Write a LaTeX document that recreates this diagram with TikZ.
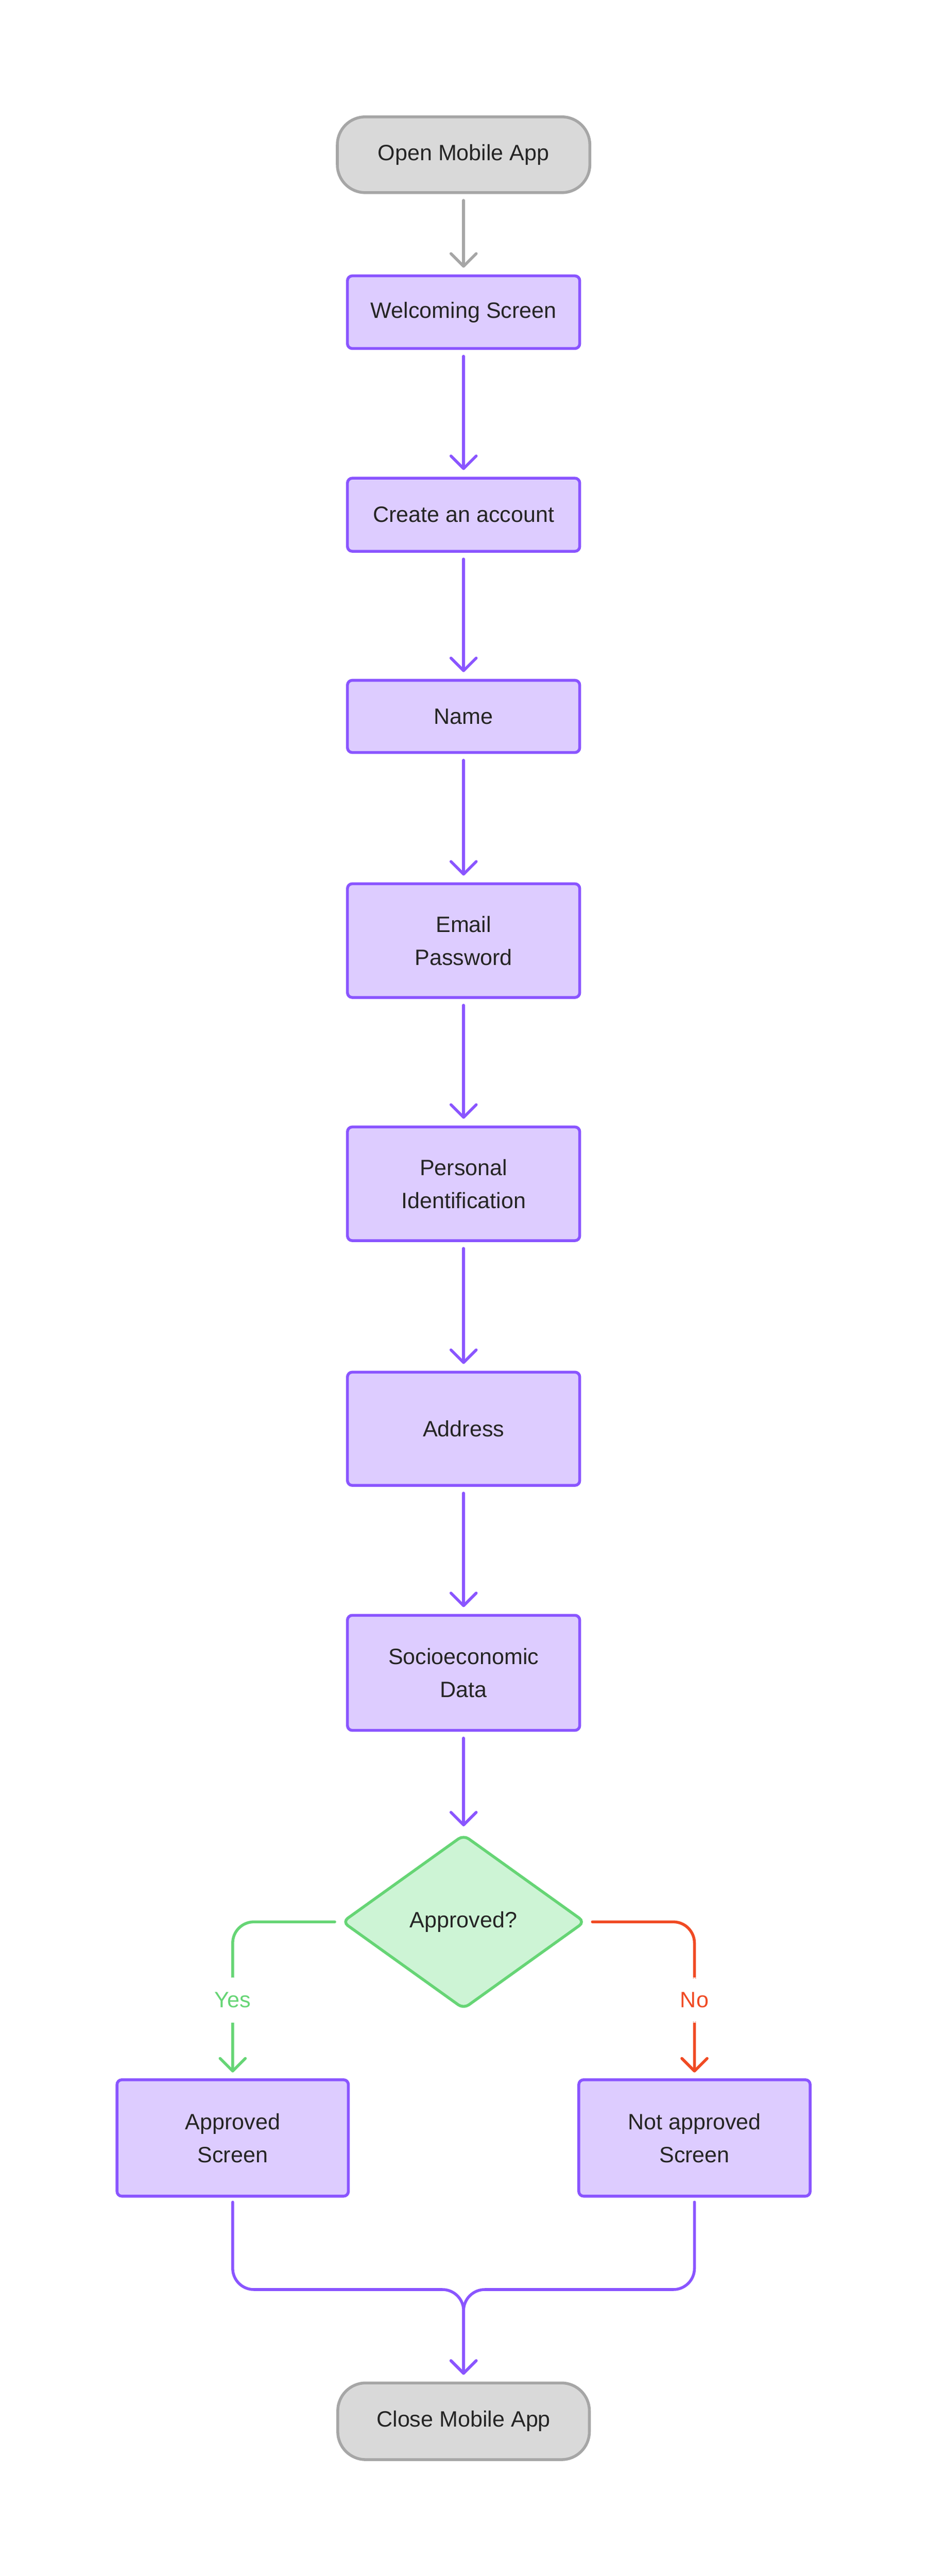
\documentclass[tikz,border=0pt]{standalone}
\usepackage{fontspec}
\setmainfont{Liberation Sans}
\usepackage{tikz}
\usetikzlibrary{positioning,shapes,arrows.meta}

\definecolor{linepurple}{HTML}{8A55FF}
\definecolor{boxpurple}{HTML}{DDCCFF}
\definecolor{edgegray}{HTML}{A6A6A6}
\definecolor{boxgray}{HTML}{D9D9D9}
\definecolor{yesgreen}{HTML}{66D575}
\definecolor{boxgreen}{HTML}{CDF4D5}
\definecolor{nored}{HTML}{F04A23}
\definecolor{txt}{HTML}{252525}

\begin{document}
\begin{tikzpicture}[
  font = \fontsize{14}{20.8}\selectfont,
  screen/.style = {draw = linepurple, fill = boxpurple, line width = 1.8pt, rounded corners = 3pt, minimum width = 5.15cm, align = center, text = txt},
  terminal/.style = {draw = edgegray, fill = boxgray, line width = 1.8pt, rounded corners = 0.62cm, minimum width = 5.6cm, minimum height = 1.68cm, text = txt},
  check/.style = {diamond, draw = yesgreen, fill = boxgreen, line width = 1.8pt, rounded corners = 4pt, minimum width = 5.39cm, minimum height = 3.87cm, inner sep = 0pt, text = txt},
  tip/.style = {-{Straight Barb[length = 0.28cm, width = 0.56cm, round]}},
  flow/.style = {tip, linepurple, line width = 1.8pt, line cap = round, shorten < = 0.14cm, shorten > = 0.15cm},
  branch/.style = {tip, line width = 1.8pt, line cap = round, rounded corners = 0.47cm, shorten < = 0.13cm, shorten > = 0.13cm},
  answer/.style = {fill = white, minimum height = 1.0cm, inner sep = 1pt}
]

\useasboundingbox (0,0) rectangle (20.57,-57.10);

\node[terminal] (open) at (10.28,-3.43) {Open Mobile App};

\node[screen, minimum height = 1.61cm] (welcome) at (10.28,-6.92) {Welcoming Screen};
\node[screen, minimum height = 1.62cm] (account) at (10.28,-11.41) {Create an account};
\node[screen, minimum height = 1.60cm] (name) at (10.28,-15.88) {Name};
\node[screen, minimum height = 2.52cm] (email) at (10.28,-20.85) {Email\\Password};
\node[screen, minimum height = 2.52cm] (ident) at (10.28,-26.24) {Personal\\Identification};
\node[screen, minimum height = 2.51cm] (address) at (10.28,-31.67) {Address};
\node[screen, minimum height = 2.55cm] (socio) at (10.28,-37.08) {Socioeconomic\\Data};

\node[check] (approved) at (10.28,-42.60) {Approved?};

\node[screen, minimum height = 2.58cm, minimum width = 5.13cm] (yesscreen) at (5.16,-47.39) {Approved\\Screen};
\node[screen, minimum height = 2.58cm, minimum width = 5.13cm] (noscreen) at (15.40,-47.39) {Not approved\\Screen};

\node[terminal, minimum height = 1.70cm, minimum width = 5.58cm] (close) at (10.28,-53.67) {Close Mobile App};

\coordinate (merge) at (10.28,-50.75);

%%%%%%%%%%%%%%%%%%%%%%%%%%%%%%%%

\draw[flow, edgegray] (open) -- (welcome);
\draw[flow] (welcome) -- (account);
\draw[flow] (account) -- (name);
\draw[flow] (name) -- (email);
\draw[flow] (email) -- (ident);
\draw[flow] (ident) -- (address);
\draw[flow] (address) -- (socio);
\draw[flow] (socio) -- (approved);

\draw[branch, yesgreen] (approved.west) -| node[answer, pos = .75, text = yesgreen] {Yes} (yesscreen.north);
\draw[branch, nored] (approved.east) -| node[answer, pos = .75, text = nored] {No} (noscreen.north);

%%%%%%%%%%%%%%%%%%%%%%%%%%%%%%%%

\draw[flow, rounded corners = 0.47cm, shorten < = 0.1cm] (yesscreen.south) |- (merge) -- (close.north);
\draw[flow, rounded corners = 0.47cm, shorten < = 0.1cm] (noscreen.south) |- (merge) -- (close.north);

\end{tikzpicture}
\end{document}
